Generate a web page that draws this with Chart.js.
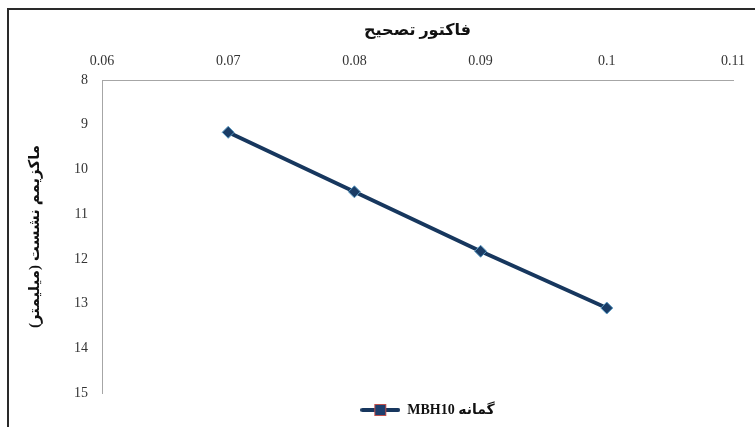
<!DOCTYPE html>
<html lang="fa">
<head>
<meta charset="utf-8">
<title>فاکتور تصحیح</title>
<script src="https://cdn.jsdelivr.net/npm/chart.js@4.4.1/dist/chart.umd.min.js"></script>
<style>
    html, body { margin: 0; padding: 0; background: #fff; overflow: hidden; }
    .frame {
        position: absolute; left: 7px; top: 8px; width: 900px; height: 600px;
        border-left: 2px solid #2a2a2a; border-top: 2px solid #2a2a2a;
    }
    .wrap { position: absolute; left: 0; top: 0; width: 755px; height: 427px; }
</style>
</head>
<body>
<div class="frame"></div>
<div class="wrap"><canvas id="myChart" width="755" height="427"></canvas></div>
<script>
const factors = [0.07, 0.08, 0.09, 0.1];
const settlement = [9.17, 10.5, 11.83, 13.1];
const xTickLabels = ['0.06', '0.07', '0.08', '0.09', '0.1', '0.11'];
const yTickLabels = ['8', '9', '10', '11', '12', '13', '14', '15'];
const seriesName = 'گمانه MBH10';

const navy = '#17375e';
const serif = '"Liberation Serif", "DejaVu Serif", "DejaVu Sans", serif';

// pick the label whose number matches the tick value
const tickLabel = (labels, v) => labels.find(t => Math.abs(Number(t) - v) < 1e-9) || '';

// legend swatch: line with a small square in the middle
function legendMarker() {
    const c = document.createElement('canvas');
    c.width = 40; c.height = 14;
    const g = c.getContext('2d');
    g.strokeStyle = navy;
    g.lineWidth = 4;
    g.lineCap = 'round';
    g.beginPath(); g.moveTo(2, 7); g.lineTo(38, 7); g.stroke();
    g.fillStyle = '#1f3f6e';
    g.fillRect(14, 1, 12, 12);
    g.strokeStyle = '#c0504d';
    g.lineWidth = 1;
    g.strokeRect(14.5, 1.5, 11, 11);
    return c;
}

// keep the legend centred under the plot instead of the whole canvas
const legendShift = {
    id: 'legendShift',
    afterLayout(chart) {
        const lg = chart.legend, area = chart.chartArea;
        if (!lg || !area) return;
        const d = (area.left + area.right) / 2 - (lg.left + lg.right) / 2 + 10;
        lg.left += d; lg.right += d;
        if (lg.legendHitBoxes) lg.legendHitBoxes.forEach(b => { b.left += d; });
    }
};

const ctx = document.getElementById('myChart').getContext('2d');

const data = {
    datasets: [{
        label: seriesName,
        data: factors.map((f, i) => ({ x: f, y: settlement[i] })),
        borderColor: navy,
        backgroundColor: navy,
        borderWidth: 4,
        pointStyle: 'rectRot',
        pointRadius: 6,
        pointHoverRadius: 6,
        pointBackgroundColor: '#1a3c66',
        pointBorderColor: '#5b9bc4',
        pointBorderWidth: 1,
        tension: 0
    }]
};

const config = {
    type: 'line',
    data: data,
    plugins: [legendShift],
    options: {
        responsive: false,
        animation: false,
        layout: { padding: { left: 0, top: 0, right: 18, bottom: 0 } },
        plugins: {
            tooltip: { enabled: false },
            legend: {
                position: 'bottom',
                textDirection: 'rtl',
                labels: {
                    usePointStyle: true,
                    pointStyle: legendMarker(),
                    pointStyleWidth: 40,
                    padding: 10,
                    color: '#111',
                    font: { family: serif, size: 14, weight: 'bold' }
                }
            }
        },
        scales: {
            x: {
                type: 'linear',
                position: 'top',
                min: 0.06,
                max: 0.11,
                afterFit(scale) { scale.height = 80; },
                ticks: {
                    stepSize: 0.01,
                    padding: 10,
                    color: '#333',
                    font: { family: serif, size: 14 },
                    callback: v => tickLabel(xTickLabels, v)
                },
                grid: { display: false, drawTicks: false },
                border: { display: true, color: '#a6a6a6', width: 1 },
                title: {
                    display: true,
                    text: 'فاکتور تصحیح',
                    color: '#111',
                    padding: { top: 21, bottom: 0 },
                    font: { family: serif, size: 16, weight: 'bold' }
                }
            },
            y: {
                reverse: true,
                min: 8,
                max: 15,
                afterFit(scale) { scale.width = 102; },
                ticks: {
                    stepSize: 1,
                    padding: 14,
                    color: '#333',
                    font: { family: serif, size: 14 },
                    callback: v => tickLabel(yTickLabels, v)
                },
                grid: { display: false, drawTicks: false },
                border: { display: true, color: '#a6a6a6', width: 1 },
                title: {
                    display: true,
                    text: 'ماکزیمم نشست (میلیمتر)',
                    color: '#111',
                    padding: { top: 26, bottom: 0 },
                    font: { family: serif, size: 15, weight: 'bold' }
                }
            }
        }
    }
};

const myChart = new Chart(ctx, config);
</script>
</body>
</html>
